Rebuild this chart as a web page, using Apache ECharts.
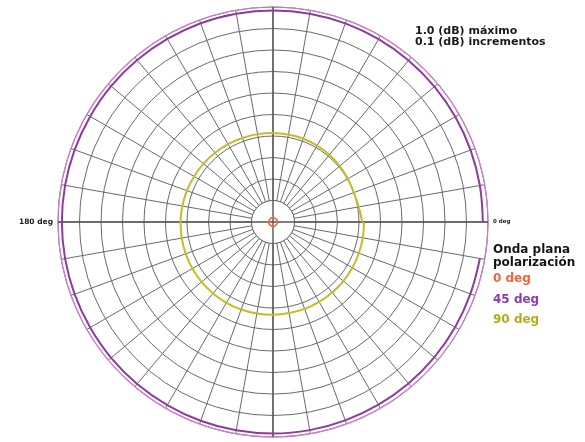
<!DOCTYPE html>
<html>
<head>
<meta charset="utf-8">
<script src="https://cdn.jsdelivr.net/npm/echarts@6/dist/echarts.min.js"></script>
<style>
  html, body { margin: 0; padding: 0; background: #ffffff; }
  #chart { width: 585px; height: 442px; }
</style>
</head>
<body>
<div id="chart"></div>
<script>
// Angles of the measured points (degrees)
const angles = [0, 10, 20, 30, 40, 50, 60, 70, 80, 90, 100, 110, 120, 130, 140, 150, 160, 170,
                180, 190, 200, 210, 220, 230, 240, 250, 260, 270, 280, 290, 300, 310, 320, 330, 340, 350];
const anglesClosed = [0, 10, 20, 30, 40, 50, 60, 70, 80, 90, 100, 110, 120, 130, 140, 150, 160, 170,
                180, 190, 200, 210, 220, 230, 240, 250, 260, 270, 280, 290, 300, 310, 320, 330, 340, 350, 360];

// Insertion-loss variation (dB) per polarization
const pol0 = [0.020, 0.020, 0.021, 0.021, 0.020, 0.020, 0.019, 0.019, 0.020, 0.020, 0.021, 0.021,
              0.020, 0.020, 0.019, 0.019, 0.020, 0.020, 0.021, 0.021, 0.020, 0.020, 0.019, 0.019,
              0.020, 0.020, 0.021, 0.021, 0.020, 0.020, 0.019, 0.019, 0.020, 0.020, 0.021, 0.020];
const pol45 = [0.976, 0.977, 0.978, 0.979, 0.980, 0.981, 0.982, 0.983, 0.984, 0.984, 0.984, 0.984,
               0.983, 0.983, 0.983, 0.982, 0.982, 0.982, 0.982, 0.982, 0.982, 0.982, 0.983, 0.983,
               0.983, 0.984, 0.984, 0.984, 0.983, 0.982, 0.981, 0.980, 0.979, 0.978, 0.977, 0.977];
const pol90 = [0.415, 0.405, 0.400, 0.402, 0.405, 0.408, 0.410, 0.412, 0.413, 0.414, 0.415, 0.416,
               0.418, 0.420, 0.422, 0.424, 0.426, 0.428, 0.430, 0.431, 0.432, 0.433, 0.434, 0.434,
               0.434, 0.433, 0.432, 0.431, 0.430, 0.430, 0.429, 0.428, 0.427, 0.426, 0.425, 0.424, 0.423];

// Scale: 1.0 dB maximum, 0.1 dB rings
const radiusMax = 1.0;
const radiusStep = 0.1;
const angleLabels = { 0: '{r|0 deg}', 180: '{l|180 deg}' };

const seriesNames = ['0 deg', '45 deg', '90 deg'];
const seriesColors = ['#ee6a3c', '#8c3c9e', '#c4bc2a'];
const legendColors = ['#f0663a', '#8a3cb4', '#b4ac1c'];

const gridColor = '#6a6a6a';
const fontBold = '"DejaVu Sans", Verdana, sans-serif';

function pairs(rs, as) { return rs.map((r, i) => [r, as[i]]); }

const chart = echarts.init(document.getElementById('chart'));

const legendGraphics = [
  { type: 'text', left: 493, top: 244, style: { text: 'Onda plana', font: 'bold 12px ' + fontBold, fill: '#151515' } },
  { type: 'text', left: 493, top: 257, style: { text: 'polarización', font: 'bold 12px ' + fontBold, fill: '#151515' } }
].concat(seriesNames.map((n, i) => ({
  type: 'text', left: 493, top: 273 + i * 20.5,
  style: { text: n, font: 'bold 12px ' + fontBold, fill: legendColors[i] }
})));

chart.setOption({
  backgroundColor: '#ffffff',
  animation: false,
  polar: { center: [273, 222], radius: 215 },
  angleAxis: {
    type: 'value', min: 0, max: 360, interval: 10, startAngle: 0, clockwise: false,
    axisLine: { show: true, lineStyle: { color: '#d67ccb', width: 1.2 } },
    axisTick: { show: false },
    axisLabel: {
      show: true, margin: 5,
      formatter: v => angleLabels[v] || '',
      rich: {
        r: { fontSize: 5.5, fontWeight: 'bold', fontFamily: fontBold, color: '#222' },
        l: { fontSize: 7.5, fontWeight: 'bold', fontFamily: fontBold, color: '#222' }
      }
    },
    splitLine: { show: true, lineStyle: { color: gridColor, width: 1 } }
  },
  radiusAxis: {
    type: 'value', min: 0, max: radiusMax, interval: radiusStep,
    axisLine: { show: false }, axisTick: { show: false }, axisLabel: { show: false },
    splitLine: { show: true, lineStyle: { color: gridColor, width: 1 } }
  },
  series: [
    { // clear hub inside the first ring
      type: 'line', coordinateSystem: 'polar', silent: true, symbol: 'none', z: 1,
      data: anglesClosed.map(a => [radiusStep, a]),
      lineStyle: { color: gridColor, width: 1 },
      areaStyle: { color: '#ffffff', opacity: 1 }
    },
    { // 0/180 axis
      type: 'line', coordinateSystem: 'polar', silent: true, symbol: 'none', z: 2,
      data: [[radiusMax, 0], [radiusMax, 180]],
      lineStyle: { color: '#555', width: 1.4 }
    },
    { // 90/270 axis
      type: 'line', coordinateSystem: 'polar', silent: true, symbol: 'none', z: 2,
      data: [[radiusMax, 90], [radiusMax, 270]],
      lineStyle: { color: '#555', width: 1.4 }
    },
    {
      name: seriesNames[2], type: 'line', coordinateSystem: 'polar', symbol: 'none', z: 3,
      smooth: 0.4,
      data: pairs(pol90, anglesClosed),
      lineStyle: { color: seriesColors[2], width: 2 }
    },
    {
      name: seriesNames[1], type: 'line', coordinateSystem: 'polar', symbol: 'none', z: 3,
      smooth: 0.4,
      data: pairs(pol45, angles),
      lineStyle: { color: seriesColors[1], width: 2 }
    },
    {
      name: seriesNames[0], type: 'line', coordinateSystem: 'polar', symbol: 'none', z: 4,
      smooth: 0.4,
      data: pairs(pol0.concat([pol0[0]]), anglesClosed),
      lineStyle: { color: seriesColors[0], width: 1.6 }
    }
  ],
  graphic: [
    { type: 'text', left: 415, top: 26, style: { text: '1.0 (dB) máximo', font: 'bold 11px ' + fontBold, fill: '#1a1a1a' } },
    { type: 'text', left: 415, top: 37, style: { text: '0.1 (dB) incrementos', font: 'bold 11px ' + fontBold, fill: '#1a1a1a' } }
  ].concat(legendGraphics)
});
</script>
</body>
</html>
